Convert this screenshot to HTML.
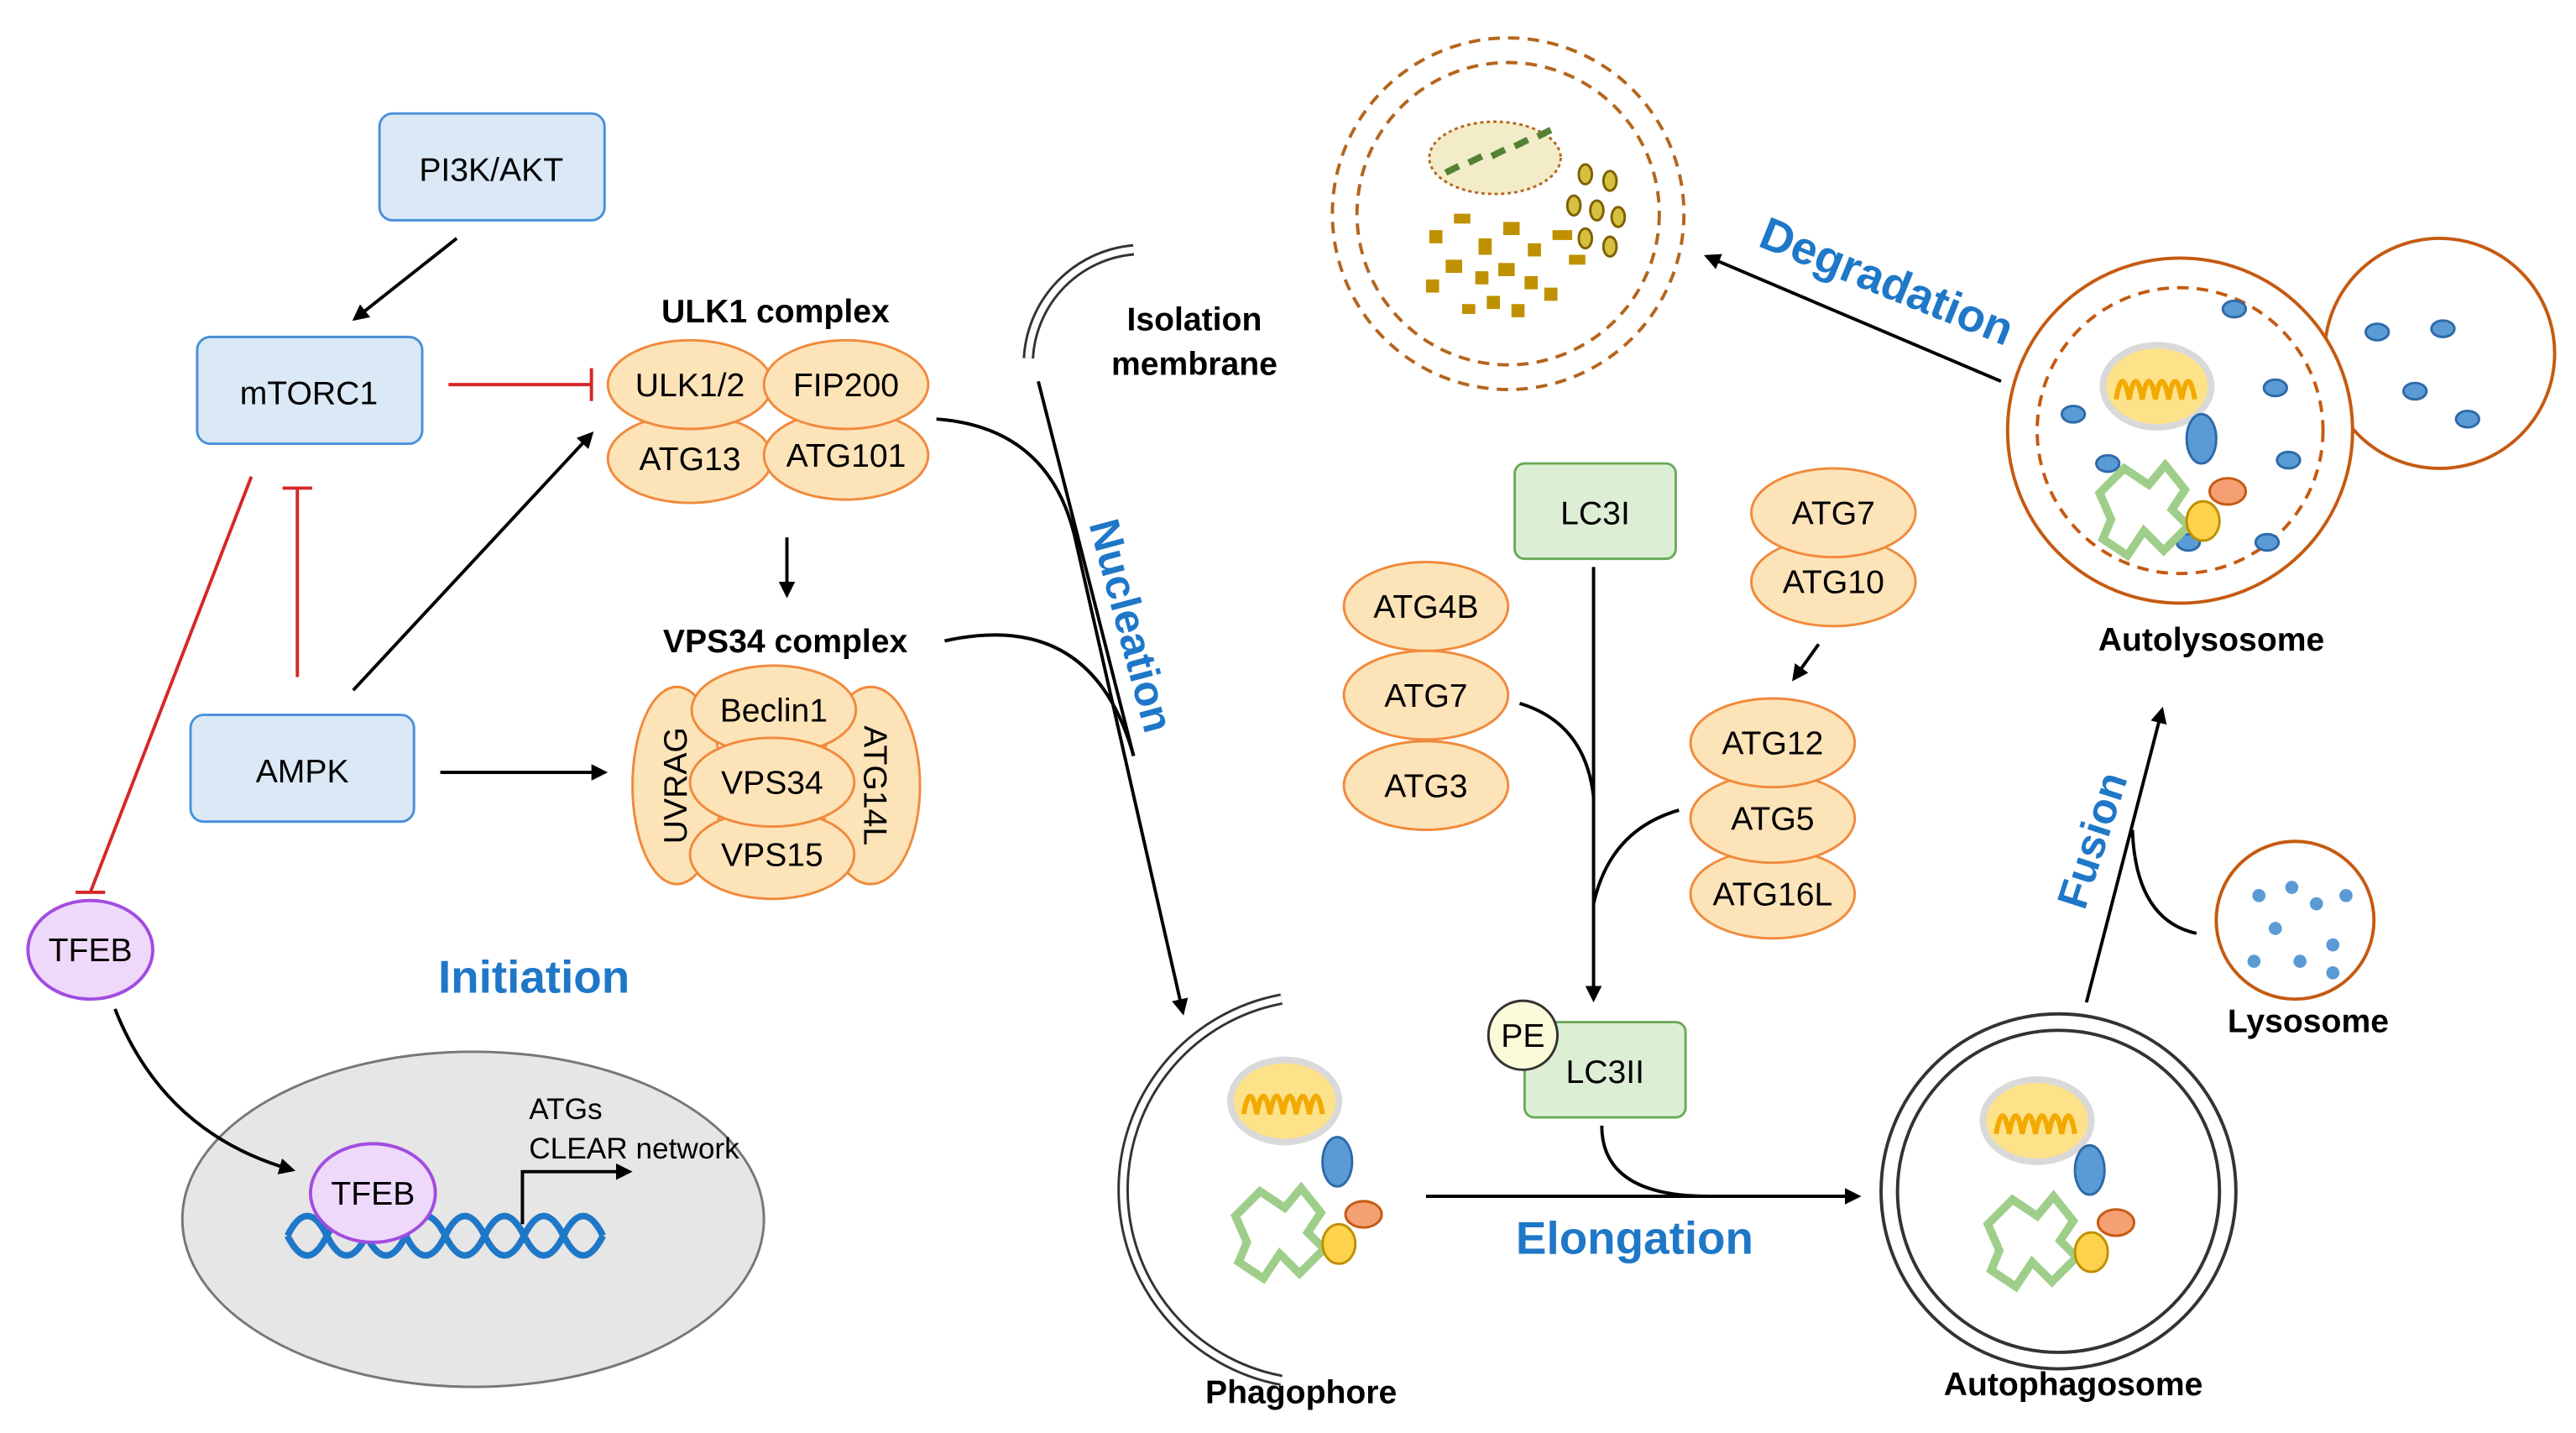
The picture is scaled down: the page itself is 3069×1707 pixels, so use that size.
<!DOCTYPE html>
<html><head><meta charset="utf-8"><style>
html,body{margin:0;padding:0;background:#fff}
svg{display:block}
text{font-family:"Liberation Sans",Arial,sans-serif}
</style></head><body>
<svg width="3069" height="1707" viewBox="0 0 1568 872" xmlns="http://www.w3.org/2000/svg">
<defs>
<marker id="ar" markerWidth="10" markerHeight="10" refX="8" refY="5" orient="auto" markerUnits="userSpaceOnUse"><path d="M0,0 L10,5 L0,10 z" fill="#000"/></marker>
<g id="mito"><ellipse cx="0" cy="0" rx="33" ry="25" fill="#fde28a" stroke="#d9d9d9" stroke-width="4"/><path d="M-25,8 q4,-22 8,0 q4,-22 8,0 q4,-22 8,0 q4,-22 8,0 q4,-22 8,0 q4,-22 8,0" fill="none" stroke="#f2a900" stroke-width="3"/></g>
<g id="cargo"><path d="M-40,-5 l15,-15 l15,10 l10,-12 l12,15 l-8,12 l10,10 l-15,15 l-12,-12 l-10,15 l-15,-10 l5,-12z" fill="none" stroke="#9fce8a" stroke-width="5"/><ellipse cx="22" cy="-38" rx="9" ry="15" fill="#5b9bd5" stroke="#2e6aa8"/><ellipse cx="38" cy="-6" rx="11" ry="8" fill="#f4a072" stroke="#c55a11"/><ellipse cx="23" cy="12" rx="10" ry="12" fill="#ffd24d" stroke="#bf9000"/></g>
</defs>
<g stroke-width="1.5" font-size="20">
<!-- blue boxes -->
<rect x="231" y="69" width="137" height="65" rx="8" fill="#dbe9f7" stroke="#4a90d9"/>
<text x="299" y="110" text-anchor="middle">PI3K/AKT</text>
<rect x="120" y="205" width="137" height="65" rx="8" fill="#dbe9f7" stroke="#4a90d9"/>
<text x="188" y="246" text-anchor="middle">mTORC1</text>
<rect x="116" y="435" width="136" height="65" rx="8" fill="#dbe9f7" stroke="#4a90d9"/>
<text x="184" y="476" text-anchor="middle">AMPK</text>
<!-- TFEB -->
<ellipse cx="55" cy="578" rx="38" ry="30" fill="#efd9fb" stroke="#a24ce0" stroke-width="2"/>
<text x="55" y="585" text-anchor="middle">TFEB</text>
<ellipse cx="288" cy="742" rx="177" ry="102" fill="#e6e6e6" stroke="#777"/>
<path d="M175,752 q12,-24 24,0 t24,0 t24,0 t24,0 t24,0 t24,0 t24,0 t24,0" fill="none" stroke="#1f77c8" stroke-width="4"/>
<path d="M175,752 q12,24 24,0 t24,0 t24,0 t24,0 t24,0 t24,0 t24,0 t24,0" fill="none" stroke="#1f77c8" stroke-width="4"/>
<ellipse cx="227" cy="726" rx="38" ry="30" fill="#efd9fb" stroke="#a24ce0" stroke-width="2"/>
<text x="227" y="733" text-anchor="middle">TFEB</text>
<path d="M318,745 V713 H383" fill="none" stroke="#000" stroke-width="2" marker-end="url(#ar)"/>
<text x="322" y="681" font-size="18">ATGs</text>
<text x="322" y="705" font-size="18">CLEAR network</text>
<text x="325" y="604" font-size="28" font-weight="bold" fill="#1f77c8" text-anchor="middle">Initiation</text>
<!-- arrows -->
<line x1="278" y1="145" x2="216" y2="194" stroke="#000" stroke-width="2" marker-end="url(#ar)"/>
<line x1="273" y1="234" x2="360" y2="234" stroke="#d62728" stroke-width="2"/><line x1="360" y1="224" x2="360" y2="244" stroke="#d62728" stroke-width="2"/>
<line x1="181" y1="412" x2="181" y2="297" stroke="#d62728" stroke-width="2"/><line x1="172" y1="297" x2="190" y2="297" stroke="#d62728" stroke-width="2"/>
<line x1="153" y1="290" x2="55" y2="543" stroke="#d62728" stroke-width="2"/><line x1="46" y1="543" x2="64" y2="543" stroke="#d62728" stroke-width="2"/>
<line x1="215" y1="420" x2="360" y2="264" stroke="#000" stroke-width="2" marker-end="url(#ar)"/>
<line x1="268" y1="470" x2="368" y2="470" stroke="#000" stroke-width="2" marker-end="url(#ar)"/>
<line x1="479" y1="327" x2="479" y2="362" stroke="#000" stroke-width="2" marker-end="url(#ar)"/>
<path d="M70,614 Q100,690 178,712" fill="none" stroke="#000" stroke-width="2" marker-end="url(#ar)"/>
<!-- ULK1 -->
<text x="472" y="196" font-weight="bold" text-anchor="middle">ULK1 complex</text>
<g fill="#fde3b8" stroke="#f08a3c">
<ellipse cx="420" cy="279" rx="50" ry="27"/><ellipse cx="515" cy="277" rx="50" ry="27"/>
<ellipse cx="420" cy="234" rx="50" ry="27"/><ellipse cx="515" cy="234" rx="50" ry="27"/>
</g>
<g text-anchor="middle"><text x="420" y="241">ULK1/2</text><text x="515" y="241">FIP200</text><text x="420" y="286">ATG13</text><text x="515" y="284">ATG101</text></g>
<!-- VPS34 -->
<text x="478" y="397" font-weight="bold" text-anchor="middle">VPS34 complex</text>
<g fill="#fde3b8" stroke="#f08a3c">
<ellipse cx="412" cy="478" rx="27" ry="60"/><ellipse cx="530" cy="478" rx="30" ry="60"/>
<ellipse cx="471" cy="432" rx="50" ry="27"/><ellipse cx="470" cy="520" rx="50" ry="27"/>
<ellipse cx="470" cy="476" rx="50" ry="27"/>
</g>
<g text-anchor="middle"><text x="471" y="439">Beclin1</text><text x="470" y="483">VPS34</text><text x="470" y="527">VPS15</text>
<text transform="translate(418,478) rotate(-90)">UVRAG</text><text transform="translate(526,478) rotate(90)">ATG14L</text></g>
<!-- isolation membrane -->
<path d="M690,152 A70,70 0 0 0 626,218" fill="none" stroke="#333" stroke-width="7"/>
<path d="M690,152 A70,70 0 0 0 626,218" fill="none" stroke="#fff" stroke-width="4"/>
<text x="727" y="201" font-weight="bold" text-anchor="middle">Isolation</text>
<text x="727" y="228" font-weight="bold" text-anchor="middle">membrane</text>
<path d="M570,255 Q640,260 655,330 L720,616" fill="none" stroke="#000" stroke-width="2" marker-end="url(#ar)"/>
<path d="M632,232 L690,460" fill="none" stroke="#000" stroke-width="2"/>
<path d="M575,390 Q665,370 690,460" fill="none" stroke="#000" stroke-width="2"/>
<text transform="translate(680,383) rotate(75)" font-size="26" font-weight="bold" fill="#1f77c8" text-anchor="middle">Nucleation</text>
<!-- phagophore -->
<path d="M780,608 A118,118 0 0 0 780,840" fill="none" stroke="#333" stroke-width="7"/>
<path d="M780,608 A118,118 0 0 0 780,840" fill="none" stroke="#fff" stroke-width="4"/>
<use href="#mito" x="782" y="670"/><use href="#cargo" x="792" y="745"/>
<text x="792" y="854" font-weight="bold" text-anchor="middle">Phagophore</text>
<line x1="868" y1="728" x2="1131" y2="728" stroke="#000" stroke-width="2" marker-end="url(#ar)"/>
<text x="995" y="763" font-size="28" font-weight="bold" fill="#1f77c8" text-anchor="middle">Elongation</text>
<!-- LC3 -->
<rect x="922" y="282" width="98" height="58" rx="6" fill="#dcefd5" stroke="#6aaa5a"/>
<text x="971" y="319" text-anchor="middle">LC3I</text>
<rect x="928" y="622" width="98" height="58" rx="6" fill="#dcefd5" stroke="#6aaa5a"/>
<text x="977" y="659" text-anchor="middle">LC3II</text>
<circle cx="927" cy="630" r="21" fill="#fcfbd9" stroke="#333"/>
<text x="927" y="637" text-anchor="middle">PE</text>
<line x1="970" y1="345" x2="970" y2="608" stroke="#000" stroke-width="2" marker-end="url(#ar)"/>
<path d="M925,428 Q965,440 970,485" fill="none" stroke="#000" stroke-width="2"/>
<path d="M1022,493 Q980,505 970,550" fill="none" stroke="#000" stroke-width="2"/>
<path d="M975,685 Q975,728 1040,728" fill="none" stroke="#000" stroke-width="2"/>
<line x1="1107" y1="392" x2="1092" y2="413" stroke="#000" stroke-width="2" marker-end="url(#ar)"/>
<g fill="#fde3b8" stroke="#f08a3c">
<ellipse cx="868" cy="478" rx="50" ry="27"/><ellipse cx="868" cy="423" rx="50" ry="27"/><ellipse cx="868" cy="369" rx="50" ry="27"/>
<ellipse cx="1116" cy="354" rx="50" ry="27"/><ellipse cx="1116" cy="312" rx="50" ry="27"/>
<ellipse cx="1079" cy="544" rx="50" ry="27"/><ellipse cx="1079" cy="498" rx="50" ry="27"/><ellipse cx="1079" cy="452" rx="50" ry="27"/>
</g>
<g text-anchor="middle"><text x="868" y="376">ATG4B</text><text x="868" y="430">ATG7</text><text x="868" y="485">ATG3</text>
<text x="1116" y="319">ATG7</text><text x="1116" y="361">ATG10</text>
<text x="1079" y="459">ATG12</text><text x="1079" y="505">ATG5</text><text x="1079" y="551">ATG16L</text></g>
<!-- autophagosome -->
<circle cx="1253" cy="725" r="108" fill="#fff" stroke="#333" stroke-width="2"/>
<circle cx="1253" cy="725" r="98" fill="none" stroke="#333" stroke-width="2"/>
<use href="#mito" x="1240" y="682"/><use href="#cargo" x="1250" y="750"/>
<text x="1262" y="849" font-weight="bold" text-anchor="middle">Autophagosome</text>
<!-- lysosome -->
<circle cx="1397" cy="560" r="48" fill="#fff" stroke="#c55a11" stroke-width="2"/>
<g fill="#5b9bd5"><circle cx="1375" cy="545" r="4"/><circle cx="1395" cy="540" r="4"/><circle cx="1410" cy="550" r="4"/><circle cx="1385" cy="565" r="4"/><circle cx="1420" cy="575" r="4"/><circle cx="1372" cy="585" r="4"/><circle cx="1400" cy="585" r="4"/><circle cx="1420" cy="592" r="4"/><circle cx="1428" cy="545" r="4"/></g>
<text x="1405" y="628" font-weight="bold" text-anchor="middle">Lysosome</text>
<path d="M1270,610 L1316,432" fill="none" stroke="#000" stroke-width="2" marker-end="url(#ar)"/>
<path d="M1337,568 Q1300,560 1298,505" fill="none" stroke="#000" stroke-width="2"/>
<text transform="translate(1282,514) rotate(-72)" font-size="26" font-weight="bold" fill="#1f77c8" text-anchor="middle">Fusion</text>
<!-- autolysosome -->
<circle cx="1485" cy="215" r="70" fill="#fff" stroke="#c55a11" stroke-width="2"/>
<circle cx="1327" cy="262" r="105" fill="#fff" stroke="#c55a11" stroke-width="2"/>
<circle cx="1327" cy="262" r="87" fill="none" stroke="#c55a11" stroke-width="2" stroke-dasharray="7,5"/>
<g fill="#5b9bd5" stroke="#2e6aa8"><ellipse cx="1447" cy="202" rx="7" ry="5"/><ellipse cx="1487" cy="200" rx="7" ry="5"/><ellipse cx="1470" cy="238" rx="7" ry="5"/><ellipse cx="1502" cy="255" rx="7" ry="5"/>
<ellipse cx="1360" cy="188" rx="7" ry="5"/><ellipse cx="1262" cy="252" rx="7" ry="5"/><ellipse cx="1385" cy="236" rx="7" ry="5"/><ellipse cx="1393" cy="280" rx="7" ry="5"/><ellipse cx="1283" cy="282" rx="7" ry="5"/><ellipse cx="1380" cy="330" rx="7" ry="5"/><ellipse cx="1332" cy="330" rx="7" ry="5"/></g>
<use href="#mito" x="1313" y="235"/><use href="#cargo" x="1318" y="305"/>
<text x="1346" y="396" font-weight="bold" text-anchor="middle">Autolysosome</text>
<line x1="1218" y1="232" x2="1039" y2="156" stroke="#000" stroke-width="2" marker-end="url(#ar)"/>
<text transform="translate(1145,180) rotate(22)" font-size="28" font-weight="bold" fill="#1f77c8" text-anchor="middle">Degradation</text>
<!-- degraded -->
<circle cx="918" cy="130" r="107" fill="#fff" stroke="#b5651d" stroke-width="2" stroke-dasharray="7,5"/>
<circle cx="918" cy="130" r="92" fill="none" stroke="#b5651d" stroke-width="2" stroke-dasharray="7,5"/>
<ellipse cx="910" cy="96" rx="40" ry="22" fill="#f3ecc8" stroke="#b5651d" stroke-dasharray="2,2"/>
<path d="M880,105 l8,-4 m6,-2 l8,-4 m6,0 l8,-4 m6,-2 l8,-4 m6,-2 l8,-4" stroke="#548235" stroke-width="4"/>
<g fill="#bf9000"><rect x="870" y="140" width="8" height="8"/><rect x="885" y="130" width="10" height="6"/><rect x="900" y="145" width="8" height="10"/><rect x="915" y="135" width="10" height="8"/><rect x="930" y="148" width="8" height="8"/><rect x="945" y="140" width="12" height="6"/><rect x="880" y="158" width="10" height="8"/><rect x="898" y="165" width="8" height="8"/><rect x="912" y="160" width="10" height="8"/><rect x="928" y="168" width="8" height="8"/><rect x="905" y="180" width="8" height="8"/><rect x="920" y="185" width="8" height="8"/><rect x="890" y="185" width="8" height="6"/><rect x="955" y="155" width="10" height="6"/><rect x="868" y="170" width="8" height="8"/><rect x="940" y="175" width="8" height="8"/></g>
<g fill="#d6c040" stroke="#7f6000"><ellipse cx="965" cy="106" rx="4" ry="6"/><ellipse cx="980" cy="110" rx="4" ry="6"/><ellipse cx="958" cy="125" rx="4" ry="6"/><ellipse cx="972" cy="128" rx="4" ry="6"/><ellipse cx="985" cy="132" rx="4" ry="6"/><ellipse cx="965" cy="145" rx="4" ry="6"/><ellipse cx="980" cy="150" rx="4" ry="6"/></g>
</g>
</svg>
</body></html>
